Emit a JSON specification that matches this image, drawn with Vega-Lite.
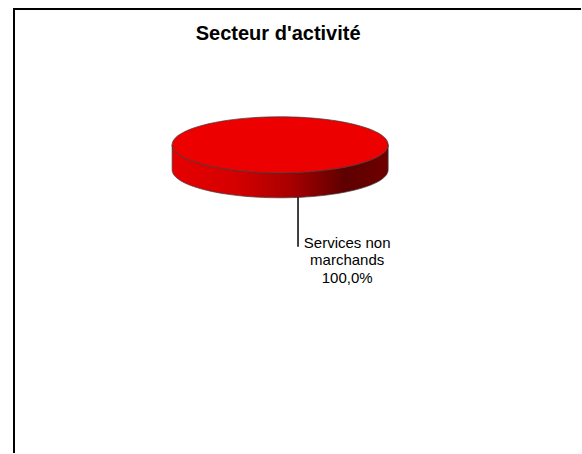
{
  "$schema": "https://vega.github.io/schema/vega-lite/v6.json",
  "width": 582,
  "height": 454,
  "autosize": {"type": "fit", "contains": "padding"},
  "padding": {"left": 12, "top": 7, "right": 0, "bottom": 0},
  "background": "white",
  "config": {"view": {"stroke": null}},
  "data": {"values": [{"secteur": "Services non marchands", "part": 100}]},
  "transform": [
    {"calculate": "replace(datum.secteur, ' marchands', '|marchands') + '|' + replace(format(datum.part, '.1f'), '.', ',') + '%'", "as": "etiquette"}
  ],
  "encoding": {},
  "layer": [
    {
      "mark": {"type": "rule", "color": "black", "strokeWidth": 2, "strokeCap": "square"},
      "encoding": {
        "x": {"datum": 0, "type": "quantitative", "scale": {"domain": [0, 100], "nice": false, "zero": false}, "axis": null}
      }
    },
    {
      "mark": {"type": "rule", "color": "black", "strokeWidth": 2, "strokeCap": "square"},
      "encoding": {
        "y": {"datum": 0, "type": "quantitative", "scale": {"domain": [0, 100], "nice": false, "zero": false, "reverse": true}, "axis": null}
      }
    },
    {
      "mark": {"type": "text", "font": "Liberation Sans", "fontSize": 20, "fontWeight": "bold", "align": "center", "baseline": "alphabetic", "color": "black"},
      "encoding": {
        "x": {"datum": 46.67, "type": "quantitative"},
        "y": {"datum": 6.94, "type": "quantitative"},
        "text": {"value": "Secteur d'activité"}
      }
    },
    {
      "mark": {
        "type": "point",
        "shape": "M -1 0 L -1 0.2315 C -1 0.3747 -0.5523 0.4908 0 0.4908 C 0.5523 0.4908 1 0.3747 1 0.2315 L 1 0 C 1 0.1432 0.5523 0.2593 0 0.2593 C -0.5523 0.2593 -1 0.1432 -1 0 Z",
        "size": 46656,
        "filled": true,
        "opacity": 1,
        "fillOpacity": 1,
        "fill": {
          "gradient": "linear",
          "x1": 0, "y1": 0, "x2": 1, "y2": 0,
          "stops": [
            {"offset": 0, "color": "#e60000"},
            {"offset": 0.3, "color": "#d40000"},
            {"offset": 0.55, "color": "#a80000"},
            {"offset": 0.8, "color": "#5e0000"},
            {"offset": 1, "color": "#6e0000"}
          ]
        },
        "stroke": "#3a3a3a",
        "strokeWidth": 0.7
      },
      "encoding": {
        "x": {"datum": 47.02, "type": "quantitative"},
        "y": {"datum": 30.65, "type": "quantitative"}
      }
    },
    {
      "mark": {
        "type": "point",
        "shape": "M -1 0 C -1 -0.1432 -0.5523 -0.2593 0 -0.2593 C 0.5523 -0.2593 1 -0.1432 1 0 C 1 0.1432 0.5523 0.2593 0 0.2593 C -0.5523 0.2593 -1 0.1432 -1 0 Z",
        "size": 46656,
        "filled": true,
        "opacity": 1,
        "fillOpacity": 1,
        "fill": "#ec0000",
        "stroke": "#3a3a3a",
        "strokeWidth": 0.7
      },
      "encoding": {
        "x": {"datum": 47.02, "type": "quantitative"},
        "y": {"datum": 30.65, "type": "quantitative"},
        "tooltip": [{"field": "secteur", "type": "nominal"}, {"field": "part", "type": "quantitative"}]
      }
    },
    {
      "mark": {"type": "rule", "color": "black", "strokeWidth": 1.5},
      "encoding": {
        "x": {"datum": 50.18, "type": "quantitative"},
        "y": {"datum": 42.51, "type": "quantitative"},
        "y2": {"datum": 53.69}
      }
    },
    {
      "mark": {"type": "text", "font": "Liberation Sans", "fontSize": 15, "lineHeight": 17.5, "lineBreak": "|", "align": "center", "baseline": "alphabetic", "color": "black"},
      "encoding": {
        "x": {"datum": 58.86, "type": "quantitative"},
        "y": {"datum": 53.91, "type": "quantitative"},
        "text": {"field": "etiquette", "type": "nominal"}
      }
    }
  ]
}
